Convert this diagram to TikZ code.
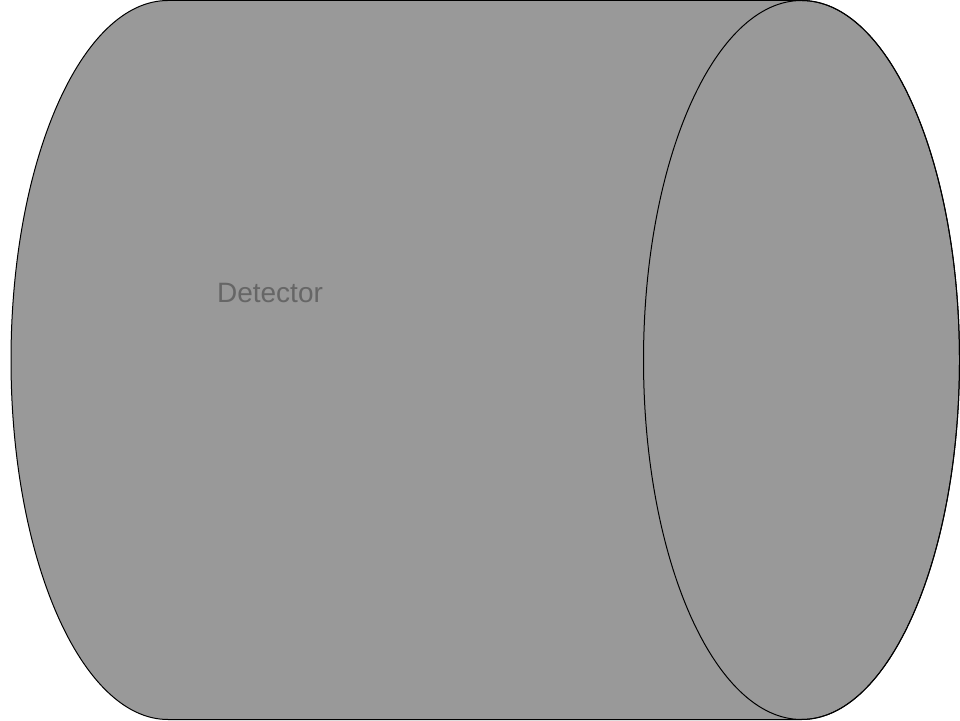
\documentclass[tikz,border=0pt]{standalone}
\usepackage{fontspec}
\setmainfont{Liberation Sans}
\definecolor{bodygray}{HTML}{999999}
\definecolor{labelgray}{HTML}{666666}
\begin{document}
\begin{tikzpicture}[x=1pt,y=1pt,
  outline/.style={draw=black,line width=1pt,fill=bodygray}]
\useasboundingbox (0,0) rectangle (960,720);
\coordinate (c2) at (801.5,360);
\path[outline] (801.5,719.5) -- (168,719.5)
  arc[start angle=90,end angle=270,x radius=157,y radius=359.5]
  -- (801.5,0.5)
  arc[start angle=-90,end angle=90,x radius=158,y radius=359.5] -- cycle;
\draw[line width=1pt] (c2) ellipse[x radius=158,y radius=359.5];
\node[text=labelgray,font=\fontsize{28}{32}\selectfont,inner sep=0pt] (lbl) at (270,427) {Detector};
\end{tikzpicture}
\end{document}
